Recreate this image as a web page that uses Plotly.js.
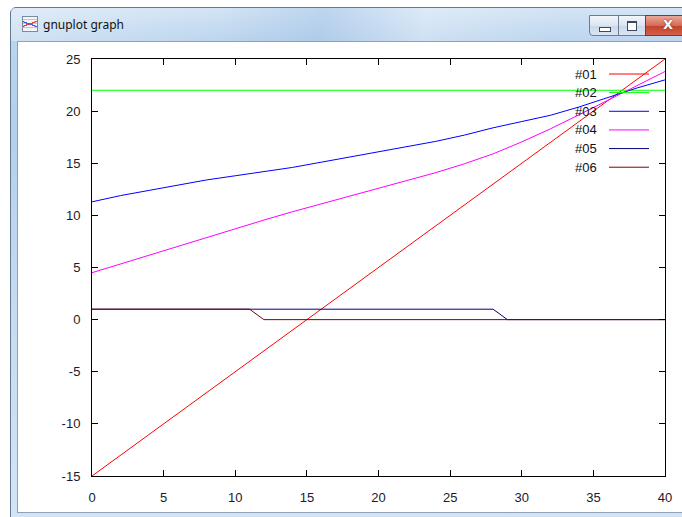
<!DOCTYPE html>
<html>
<head>
<meta charset="utf-8">
<script src="https://cdn.plot.ly/plotly-3.0.1.min.js"></script>
<style>
  html, body { margin:0; padding:0; background:#ffffff; width:682px; height:517px; overflow:hidden; }
  #win { position:absolute; left:10px; top:7px; width:690px; height:520px;
         border:1px solid #5f7894; border-radius:6px 6px 0 0;
         background:linear-gradient(to bottom, #d3e4f5 0px, #bcd5ee 34px, #b4cfea 120px, #c6dbf0 300px, #d3e4f4 510px); }
  #titlebar { position:absolute; left:0; top:0; width:100%; height:33px;
              background:linear-gradient(100deg, rgba(255,255,255,0.3) 0%, rgba(255,255,255,0) 30%, rgba(150,185,225,0.35) 45%, rgba(255,255,255,0.25) 60%, rgba(255,255,255,0) 80%); }
  #title { position:absolute; left:32px; top:8px; font-family:"Noto Sans","DejaVu Sans",sans-serif; font-size:12px; color:#111; }
  #icon { position:absolute; left:11px; top:8px; width:14px; height:14px; border:1px solid #7a8aa0;
          background:
            linear-gradient(160deg, transparent 45%, #e04040 46%, #e04040 52%, transparent 53%),
            linear-gradient(20deg, transparent 45%, #4060e0 46%, #4060e0 52%, transparent 53%),
            repeating-linear-gradient(0deg, #f4f4f4 0px, #f4f4f4 3px, #c8c8c8 3px, #c8c8c8 4px); }
  #client { position:absolute; left:17px; top:41px; width:680px; height:470px; background:#ffffff;
            border:1px solid #8da2b8; }
  .btn { position:absolute; top:7px; height:21px; border:1px solid #6a7d95; box-sizing:border-box; }
  #bmin { left:578px; width:30px; border-radius:0 0 0 4px; background:linear-gradient(to bottom,#f2f6fb,#dbe5f1 50%,#c9d8ea 51%,#d9e5f2); }
  #bmax { left:607px; width:28px; background:linear-gradient(to bottom,#f2f6fb,#dbe5f1 50%,#c9d8ea 51%,#d9e5f2); }
  #bcls { left:634px; width:60px; background:linear-gradient(to bottom,#e9a89a,#d56a55 50%,#c2412a 51%,#d3604a); border-color:#7a3a30; }
  #bmin::after { content:""; position:absolute; left:9px; top:11px; width:10px; height:3px; border:1px solid #3a4a60; background:#fff; }
  #bmax::after { content:""; position:absolute; left:8px; top:5px; width:8px; height:7px; border:1px solid #3a4a60; border-top-width:2px; background:#fff; }
  #bcls::after { content:"X"; position:absolute; left:17px; top:1px; font-family:"DejaVu Sans",sans-serif; font-weight:bold; font-size:13px; color:#fff; text-shadow:0 0 2px #6a1a10; }
  #plot { position:absolute; left:0; top:0; width:682px; height:517px; }
</style>
</head>
<body>
<div id="win">
  <div id="titlebar"></div>
  <div id="icon"></div>
  <div id="title">gnuplot graph</div>
  <div class="btn" id="bmin"></div>
  <div class="btn" id="bmax"></div>
  <div class="btn" id="bcls"></div>
</div>
<div id="client"></div>
<div id="plot"></div>
<script>
// ---- data ----
const names = ["#01", "#02", "#03", "#04", "#05", "#06"];
const colors = ["#ff0000", "#00ff00", "#0000ff", "#ff00ff", "#000080", "#800000"];

const x01 = [0, 5, 10, 15, 20, 25, 30, 35, 40];
const y01 = [-15, -10, -5, 0, 5, 10, 15, 20, 25];

const x02 = [0, 40];
const y02 = [22, 22];

const x03 = [0, 2, 4, 6, 8, 10, 12, 14, 16, 18, 20, 22, 24, 26, 28, 30, 32, 34, 36, 38, 40];
const y03 = [11.3, 11.9, 12.4, 12.9, 13.4, 13.8, 14.2, 14.6, 15.1, 15.6, 16.1, 16.6, 17.1, 17.7, 18.4, 19.0, 19.6, 20.4, 21.3, 22.2, 23.0];

const x04 = [0, 2, 4, 6, 8, 10, 12, 14, 16, 18, 20, 22, 24, 26, 28, 30, 32, 34, 36, 38, 40];
const y04 = [4.5, 5.35, 6.2, 7.05, 7.9, 8.75, 9.55, 10.35, 11.1, 11.85, 12.6, 13.35, 14.1, 14.95, 15.9, 17.05, 18.3, 19.65, 21.05, 22.45, 23.8];

const x05 = [0, 28, 29, 40];
const y05 = [1, 1, 0, 0];

const x06 = [0, 11, 12, 40];
const y06 = [1, 1, 0, 0];

const xTicks = [0, 5, 10, 15, 20, 25, 30, 35, 40];
const yTicks = [-15, -10, -5, 0, 5, 10, 15, 20, 25];

const xs = [x01, x02, x03, x04, x05, x06];
const ys = [y01, y02, y03, y04, y05, y06];

const traces = xs.map((xv, i) => ({
  x: xv, y: ys[i], type: "scatter", mode: "lines", name: names[i],
  line: { color: colors[i], width: 1 }, showlegend: false, hoverinfo: "skip"
}));

// gnuplot-style key: label right-aligned, sample line to its right
const annotations = [];
const shapes = [];
const keyTop = 0.9640, keyStep = 0.0447;
names.forEach((n, i) => {
  const yy = keyTop - i * keyStep;
  annotations.push({
    xref: "paper", yref: "paper", x: 0.8848, y: yy, xanchor: "right", yanchor: "middle",
    text: n, showarrow: false, font: { family: "Liberation Sans, Arial, sans-serif", size: 13, color: "#111" }
  });
  shapes.push({
    type: "line", xref: "paper", yref: "paper", x0: 0.9023, x1: 0.9721, y0: yy, y1: yy,
    line: { color: colors[i], width: 1 }
  });
});

const axisCommon = {
  showgrid: false, zeroline: false, showline: true, linecolor: "#000", linewidth: 1,
  mirror: "ticks", ticks: "inside", ticklen: 6, tickcolor: "#000", tickwidth: 1,
  tickfont: { family: "Liberation Sans, Arial, sans-serif", size: 13, color: "#1a1a2a" },
  fixedrange: true
};

const layout = {
  width: 682, height: 517,
  margin: { l: 92, r: 17, t: 59, b: 41, pad: 0 },
  paper_bgcolor: "rgba(0,0,0,0)", plot_bgcolor: "rgba(0,0,0,0)",
  showlegend: false,
  xaxis: Object.assign({}, axisCommon, { range: [0, 40], tickvals: xTicks, ticktext: xTicks.map(String), ticklabelstandoff: 9 }),
  yaxis: Object.assign({}, axisCommon, { range: [-15, 25], tickvals: yTicks, ticktext: yTicks.map(String), ticklabelstandoff: 8 }),
  annotations: annotations,
  shapes: shapes
};

Plotly.newPlot("plot", traces, layout, { displayModeBar: false, staticPlot: true });
</script>
</body>
</html>
